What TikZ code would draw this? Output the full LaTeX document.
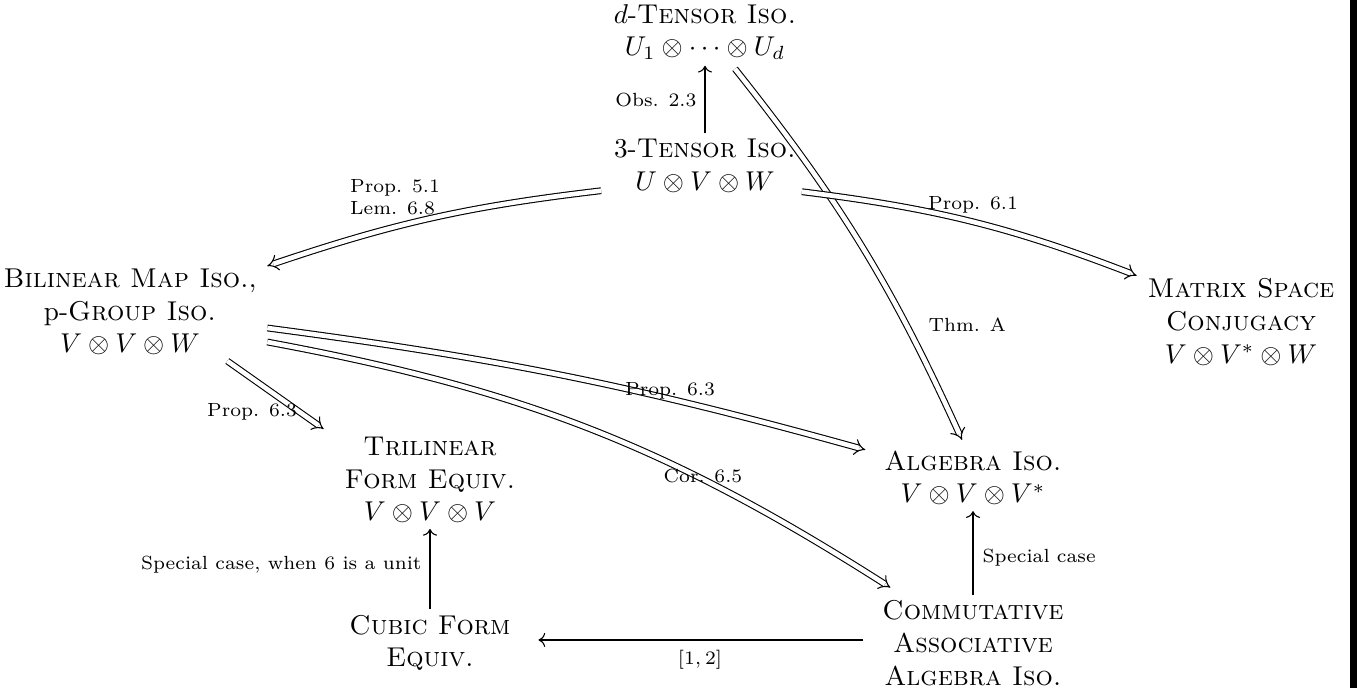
\documentclass[tikz,border=0pt]{standalone}
\usetikzlibrary{arrows.meta,calc}
\begin{document}
\begin{tikzpicture}[x=0.3676pt,y=-0.3676pt,
  obj/.style={align=center, inner sep=2pt},
  lab/.style={font=\scriptsize, align=left, inner sep=0pt},
  dbl/.style={double, double distance=1.7pt, -{Implies}},
  sgl/.style={-{To}}]
\useasboundingbox (0,0) rectangle (1357,688);
\fill (1350,0) rectangle (1357,688);
% objects
\node[obj] (dT) at (705,32) {$d$-\textsc{Tensor Iso.}\\ $U_1\otimes\cdots\otimes U_d$};
\node[obj] (T3) at (705,166) {3-\textsc{Tensor Iso.}\\ $U\otimes V\otimes W$};
\node[obj] (BM) at (130,312) {\textsc{Bilinear Map Iso.},\\ p-\textsc{Group Iso.}\\ $V\otimes V\otimes W$};
\node[obj] (MS) at (1241,322) {\textsc{Matrix Space}\\ \textsc{Conjugacy}\\ $V\otimes V^*\otimes W$};
\node[obj] (TF) at (430,480) {\textsc{Trilinear}\\ \textsc{Form Equiv.}\\ $V\otimes V\otimes V$};
\node[obj] (AI) at (973,478) {\textsc{Algebra Iso.}\\ $V\otimes V\otimes V^*$};
\node[obj] (CF) at (430,643) {\textsc{Cubic Form}\\ \textsc{Equiv.}};
\node[obj] (CA) at (973,643) {\textsc{Commutative}\\ \textsc{Associative}\\ \textsc{Algebra Iso.}};
% connectors
\draw[sgl] (T3) -- (dT);
\draw[dbl] ($(dT.south)+(30,3)$) to[bend left=7] ($(AI.north)+(-11,-5)$);
\draw[dbl] ($(T3.south west)+(-7,-8)$) to[bend right=6] ($(BM.north east)+(5,3)$);
\draw[dbl] ($(T3.south east)+(0,-7)$) to[bend left=7] ($(MS.north west)+(-5,3)$);
\draw[dbl] ($(BM.south east)+(-35,0)$) -- ($(TF.north west)+(-15,-2)$);
\draw[dbl] ($(BM.east)+(5,16)$) to[bend left=4] ($(AI.north west)+(-13,5)$);
\draw[dbl] ($(BM.east)+(5,30)$) to[bend left=11] ($(CA.north west)+(14,-7)$);
\draw[sgl] (CA) -- (AI);
\draw[sgl] (CF) -- (TF);
\draw[sgl] ($(CA.west)+(-13,-3)$) -- ($(CF.east)+(22,-3)$);
% labels
\node[lab, anchor=east] (l1) at (697,100) {Obs. 2.3};
\node[lab] (l2) at (395,197) {Prop. 5.1\\ Lem. 6.8};
\node[lab] (l3) at (973,205) {Prop. 6.1};
\node[lab, anchor=west] (l4) at (928,325) {Thm. A};
\node[lab] (l5) at (252,412) {Prop. 6.3};
\node[lab] (l6) at (670,391) {Prop. 6.3};
\node[lab] (l7) at (703,476) {Cor. 6.5};
\node[lab, anchor=west] (l8) at (982,558) {Special case};
\node[lab, anchor=east] (l9) at (422,565) {Special case, when 6 is a unit};
\node[lab] (l10) at (700,660) {$[1,2]$};
\end{tikzpicture}
\end{document}
